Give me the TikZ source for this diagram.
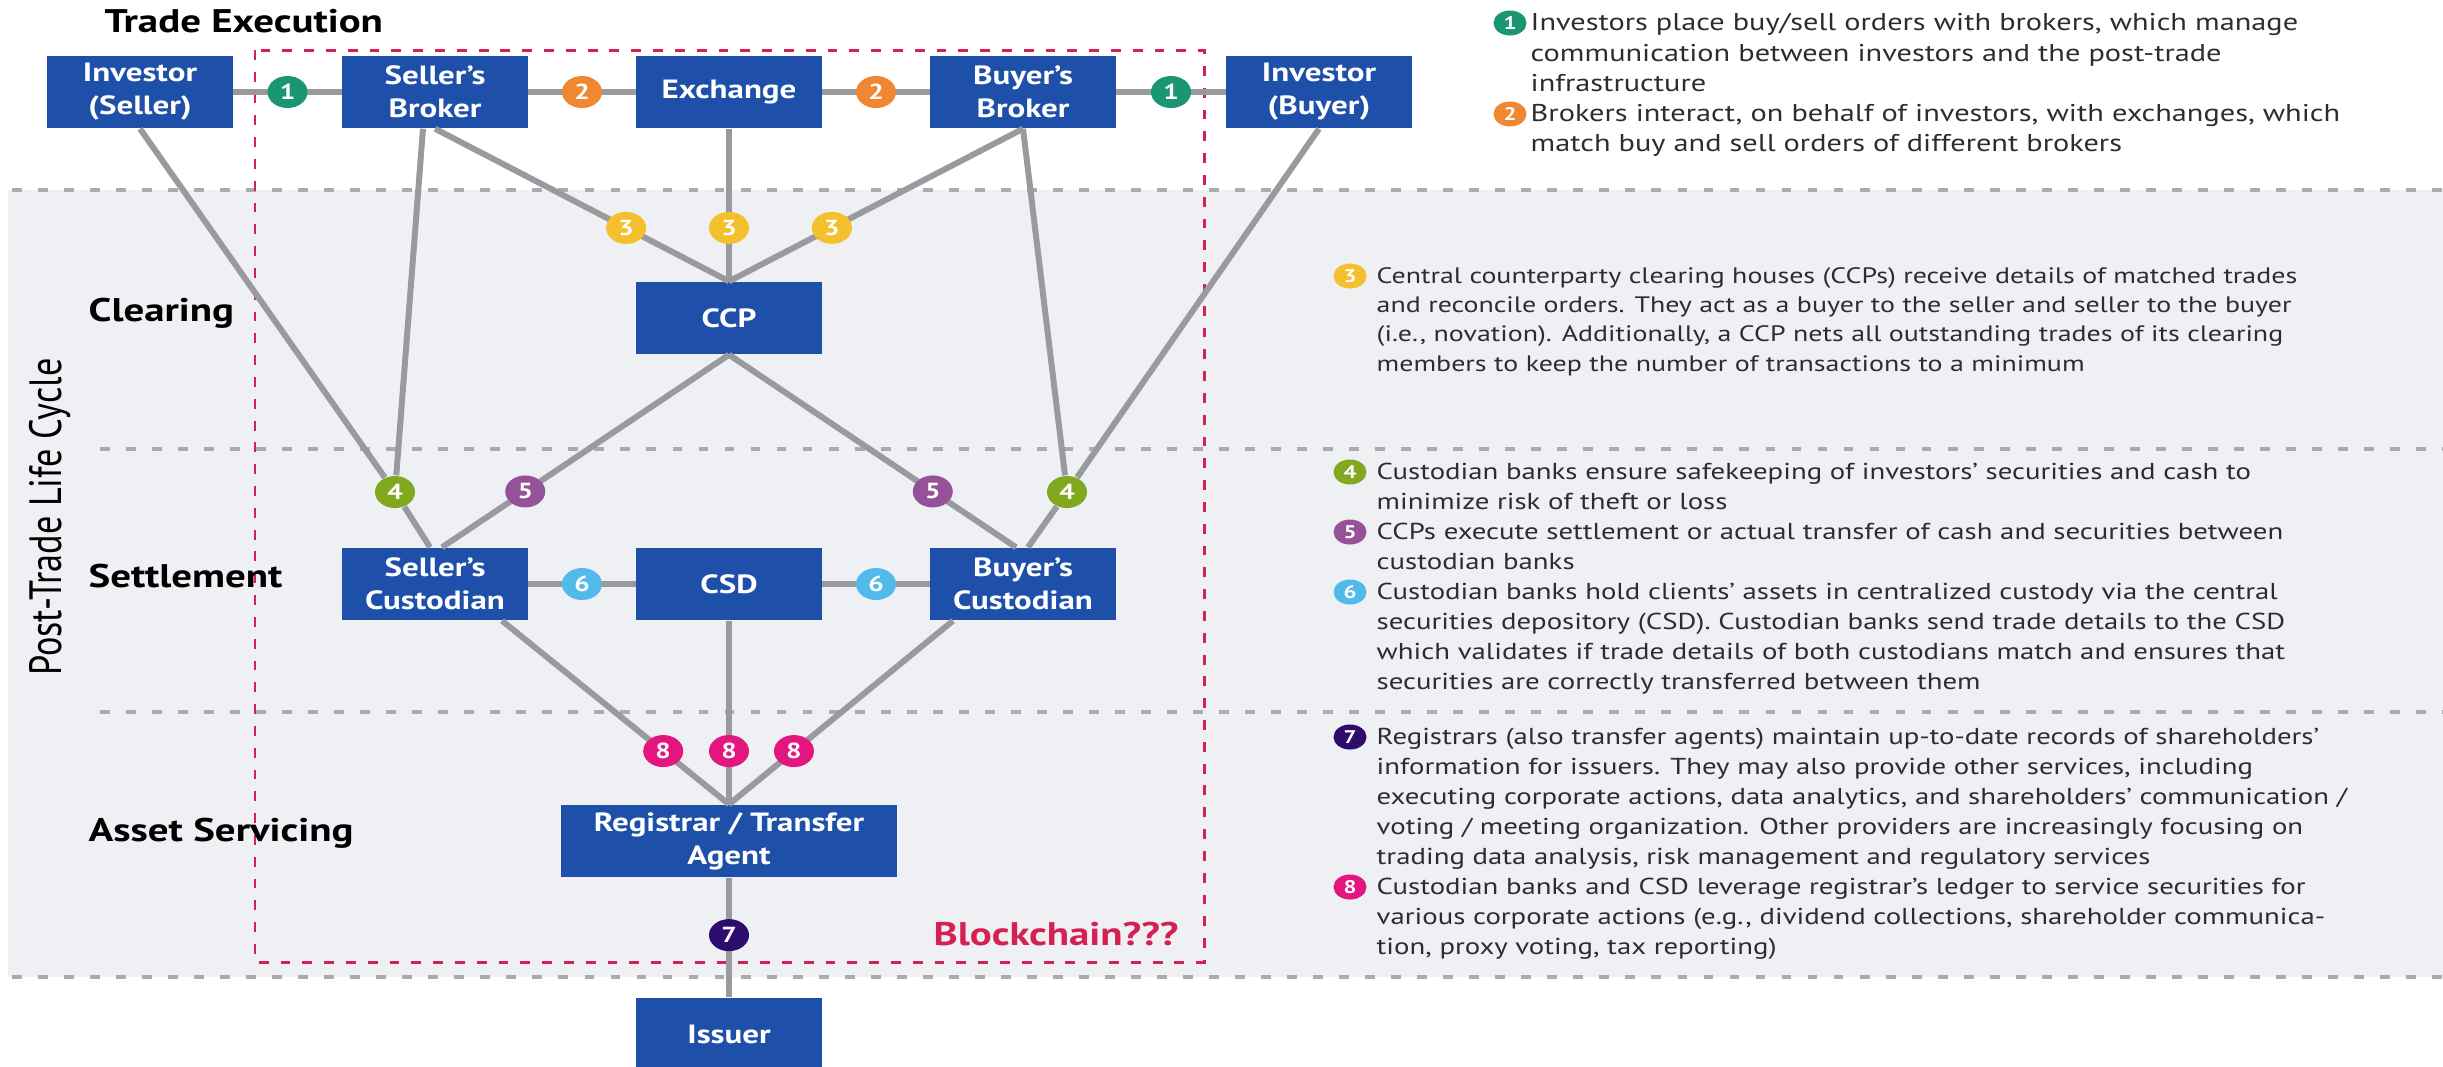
\documentclass[tikz,border=0pt]{standalone}
\usepackage{fontspec}
\setmainfont{PT Sans}[FakeStretch=1.25]
\newfontfamily\cyclefont{PT Sans}
\usetikzlibrary{shapes.geometric,positioning}

\definecolor{boxblue}{RGB}{30,80,170}
\definecolor{bandgray}{RGB}{238,240,243}
\definecolor{sepgray}{RGB}{168,172,178}
\definecolor{linegray}{RGB}{152,154,158}
\definecolor{chainred}{RGB}{212,32,82}
\definecolor{textgray}{RGB}{45,45,48}
\definecolor{cone}{RGB}{26,150,115}
\definecolor{ctwo}{RGB}{240,135,50}
\definecolor{cthree}{RGB}{245,192,45}
\definecolor{cfour}{RGB}{130,168,32}
\definecolor{cfive}{RGB}{150,82,152}
\definecolor{csix}{RGB}{82,186,235}
\definecolor{cseven}{RGB}{45,12,110}
\definecolor{ceight}{RGB}{226,22,126}

\tikzset{
  box/.style={fill=boxblue, text=white, align=center, inner sep=0pt,
    minimum width=1.85cm, minimum height=0.72cm,
    font=\bfseries\fontsize{7.5}{9.4}\selectfont},
  badge/.style={ellipse, text=white, inner sep=0pt,
    minimum width=0.4cm, minimum height=0.32cm,
    font=\bfseries\fontsize{6.2}{7}\selectfont},
  tbadge/.style={ellipse, text=white, inner sep=0pt,
    minimum width=0.33cm, minimum height=0.25cm,
    font=\bfseries\fontsize{5.2}{6}\selectfont},
  stage/.style={anchor=west, inner sep=0pt, font=\bfseries\fontsize{9.3}{10}\selectfont},
  note/.style={anchor=north west, align=left, inner sep=0pt, text=textgray,
    font=\fontsize{6.55}{8.54}\selectfont},
  link/.style={draw=linegray, line width=1.7pt},
  sep/.style={draw=sepgray, line width=1.1pt, dash pattern=on 2.8pt off 4.6pt},
  chain/.style={draw=chainred, line width=0.85pt, dash pattern=on 2.8pt off 3.4pt}
}

\begin{document}
\begin{tikzpicture}[x=0.01cm,y=-0.01cm]
\useasboundingbox (0,0) rectangle (2443,1066);
\clip (0,0) rectangle (2443,1066);
%background
\fill[bandgray] (8,190) rectangle (2443,977);
\draw[sep] (12,190) -- (2443,190);
\draw[sep] (100,449) -- (2443,449);
\draw[sep] (100,712) -- (2443,712);
\draw[sep] (12,977) -- (2443,977);
\draw[chain] (255,50) rectangle (1204,962);
%stages
\node[stage] (trade) at (104,21) {Trade Execution};
\node[stage] (clear) at (88,313) {Clearing};
\node[stage] (settle) at (88,576) {Settlement};
\node[stage] (asset) at (88,833) {Asset Servicing};
\node[stage, text=chainred, font=\bfseries\fontsize{9.3}{10}\selectfont] (chainlbl) at (933,934) {Blockchain???};
\begin{scope}[shift={(50,517)}, xscale=1.25, rotate=90]
\node[transform shape, inner sep=0pt, font=\cyclefont\fontsize{10.3}{12}\selectfont] (cycle) at (0,0) {Post-Trade Life Cycle};
\end{scope}
%boxes
\node[box] (inS) at (140,92) {Investor\\(Seller)};
\node[box] (sb) at (435,92) {Seller's\\Broker};
\node[box] (ex) at (729,92) {Exchange};
\node[box] (bb) at (1023,92) {Buyer's\\Broker};
\node[box] (inB) at (1319,92) {Investor\\(Buyer)};
\node[box] (ccp) at (729,318) {CCP};
\node[box] (sc) at (435,584) {Seller's\\Custodian};
\node[box] (csd) at (729,584) {CSD};
\node[box] (bc) at (1023,584) {Buyer's\\Custodian};
\node[box, minimum width=3.35cm] (reg) at (729,841) {Registrar / Transfer\\Agent};
\node[box] (iss) at (729,1034) {Issuer};
\node[badge, fill=cfour] (fourS) at (395,492) {4};
\node[badge, fill=cfour] (fourB) at (1067,492) {4};
%trade execution
\draw[link] (inS) -- node[badge, fill=cone] {1} (sb);
\draw[link] (sb) -- node[badge, fill=ctwo] {2} (ex);
\draw[link] (ex) -- node[badge, fill=ctwo] {2} (bb);
\draw[link] (bb) -- node[badge, fill=cone] {1} (inB);
%clearing
\draw[link] (sb.south) -- node[badge, fill=cthree, pos=0.65] {3} (ccp.north);
\draw[link] (ex) -- node[badge, fill=cthree, pos=0.65] {3} (ccp);
\draw[link] (bb.south) -- node[badge, fill=cthree, pos=0.65] {3} (ccp.north);
%settlement
\draw[link] (inS.south) -- (fourS);
\draw[link] ([xshift=-0.12cm]sb.south) -- (fourS);
\draw[link] (fourS) -- ([xshift=-0.05cm]sc.north);
\draw[link] (inB.south) -- (fourB);
\draw[link] (bb.south) -- (fourB);
\draw[link] (fourB) -- ([xshift=0.05cm]bc.north);
\draw[link] (ccp.south) -- node[badge, fill=cfive, pos=0.71] {5} ([xshift=0.07cm]sc.north);
\draw[link] (ccp.south) -- node[badge, fill=cfive, pos=0.71] {5} ([xshift=-0.07cm]bc.north);
\draw[link] (sc) -- node[badge, fill=csix] {6} (csd);
\draw[link] (csd) -- node[badge, fill=csix] {6} (bc);
%asset servicing
\draw[link] ([xshift=0.67cm]sc.south) -- node[badge, fill=ceight, pos=0.71] {8} (reg.north);
\draw[link] (csd) -- node[badge, fill=ceight, pos=0.71] {8} (reg);
\draw[link] ([xshift=-0.7cm]bc.south) -- node[badge, fill=ceight, pos=0.71] {8} (reg.north);
\draw[link] (reg) -- node[badge, fill=cseven, pos=0.48] {7} (iss);
%notes
\node[tbadge, fill=cone] (nOne) at (1510,23) {1};
\node[note, font=\fontsize{6.9}{8.54}\selectfont] (tOne) at (1530,13) {Investors place buy/sell orders with brokers, which manage\\communication between investors and the post-trade\\infrastructure};
\node[tbadge, fill=ctwo] (nTwo) at (1510,114) {2};
\node[note, font=\fontsize{6.9}{8.54}\selectfont] (tTwo) at (1530,104) {Brokers interact, on behalf of investors, with exchanges, which\\match buy and sell orders of different brokers};
\node[tbadge, fill=cthree] (nThree) at (1350,276) {3};
\node[note, font=\fontsize{6.35}{8.3}\selectfont] (tThree) at (1376,267) {Central counterparty clearing houses (CCPs) receive details of matched trades\\and reconcile orders. They act as a buyer to the seller and seller to the buyer\\(i.e., novation). Additionally, a CCP nets all outstanding trades of its clearing\\members to keep the number of transactions to a minimum};
\node[tbadge, fill=cfour] (nFour) at (1350,472) {4};
\node[note] (tFour) at (1376,462) {Custodian banks ensure safekeeping of investors' securities and cash to\\minimize risk of theft or loss};
\node[tbadge, fill=cfive] (nFive) at (1350,532) {5};
\node[note] (tFive) at (1376,522) {CCPs execute settlement or actual transfer of cash and securities between\\custodian banks};
\node[tbadge, fill=csix] (nSix) at (1350,592) {6};
\node[note] (tSix) at (1376,582) {Custodian banks hold clients' assets in centralized custody via the central\\securities depository (CSD). Custodian banks send trade details to the CSD\\which validates if trade details of both custodians match and ensures that\\securities are correctly transferred between them};
\node[tbadge, fill=cseven] (nSeven) at (1350,737) {7};
\node[note] (tSeven) at (1376,727) {Registrars (also transfer agents) maintain up-to-date records of shareholders'\\information for issuers. They may also provide other services, including\\executing corporate actions, data analytics, and shareholders' communication /\\voting / meeting organization. Other providers are increasingly focusing on\\trading data analysis, risk management and regulatory services};
\node[tbadge, fill=ceight] (nEight) at (1350,887) {8};
\node[note] (tEight) at (1376,877) {Custodian banks and CSD leverage registrar's ledger to service securities for\\various corporate actions (e.g., dividend collections, shareholder communica-\\tion, proxy voting, tax reporting)};
\end{tikzpicture}
\end{document}
